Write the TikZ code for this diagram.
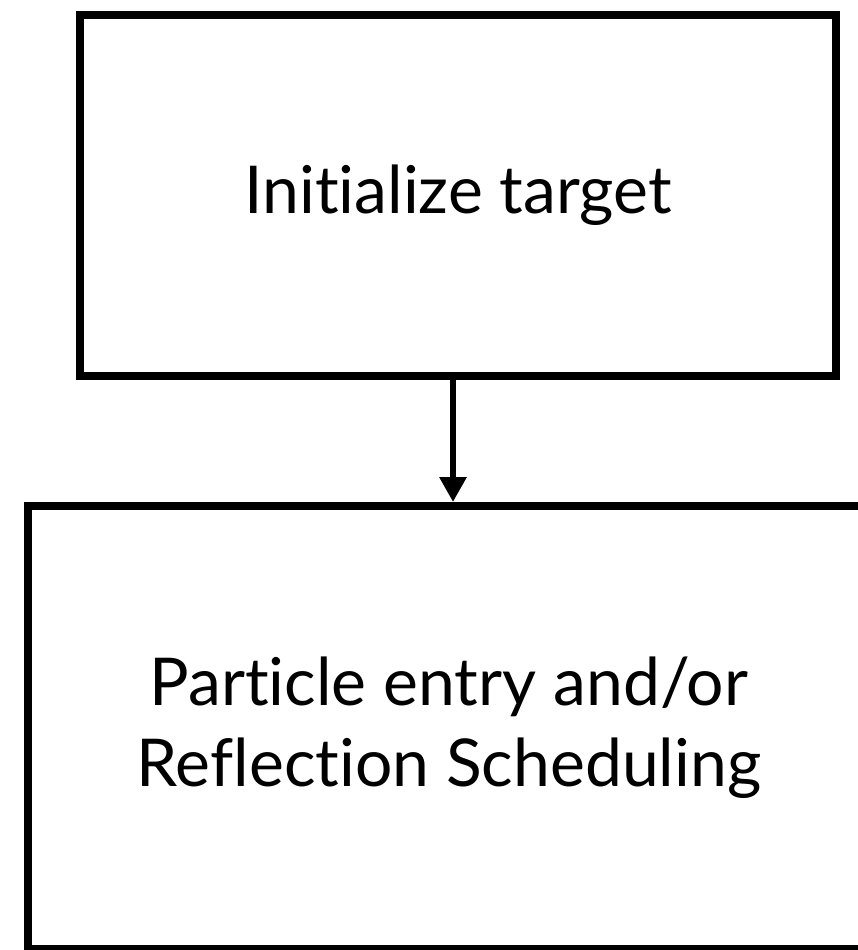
\documentclass[tikz,border=0pt]{standalone}
\usepackage{fontspec}
\setmainfont[Ligatures=NoCommon]{Lato}
\usetikzlibrary{arrows.meta}
\begin{document}
\begin{tikzpicture}[x=1pt,y=-1pt,
  box/.style={draw, line width=8pt, inner sep=0pt, align=center,
    font=\fontsize{66}{81}\selectfont},
  flow/.style={line width=6pt, -{Triangle[width=26pt,length=25pt]}}]
\useasboundingbox (0,0) rectangle (857,950);
% first step
\node[box, minimum width=756pt, minimum height=361pt] (init) at (458,195.5)
  {Initialize target};
% second step, running past the right and bottom edges
\node[box, minimum width=842pt, minimum height=443pt] (sched) at (449,727.5)
  {Particle entry and/or\\Reflection Scheduling};
% connector
\draw[flow] ([xshift=-5pt]init.south) -- ([xshift=-5pt]init.south |- sched.north);
\end{tikzpicture}
\end{document}
